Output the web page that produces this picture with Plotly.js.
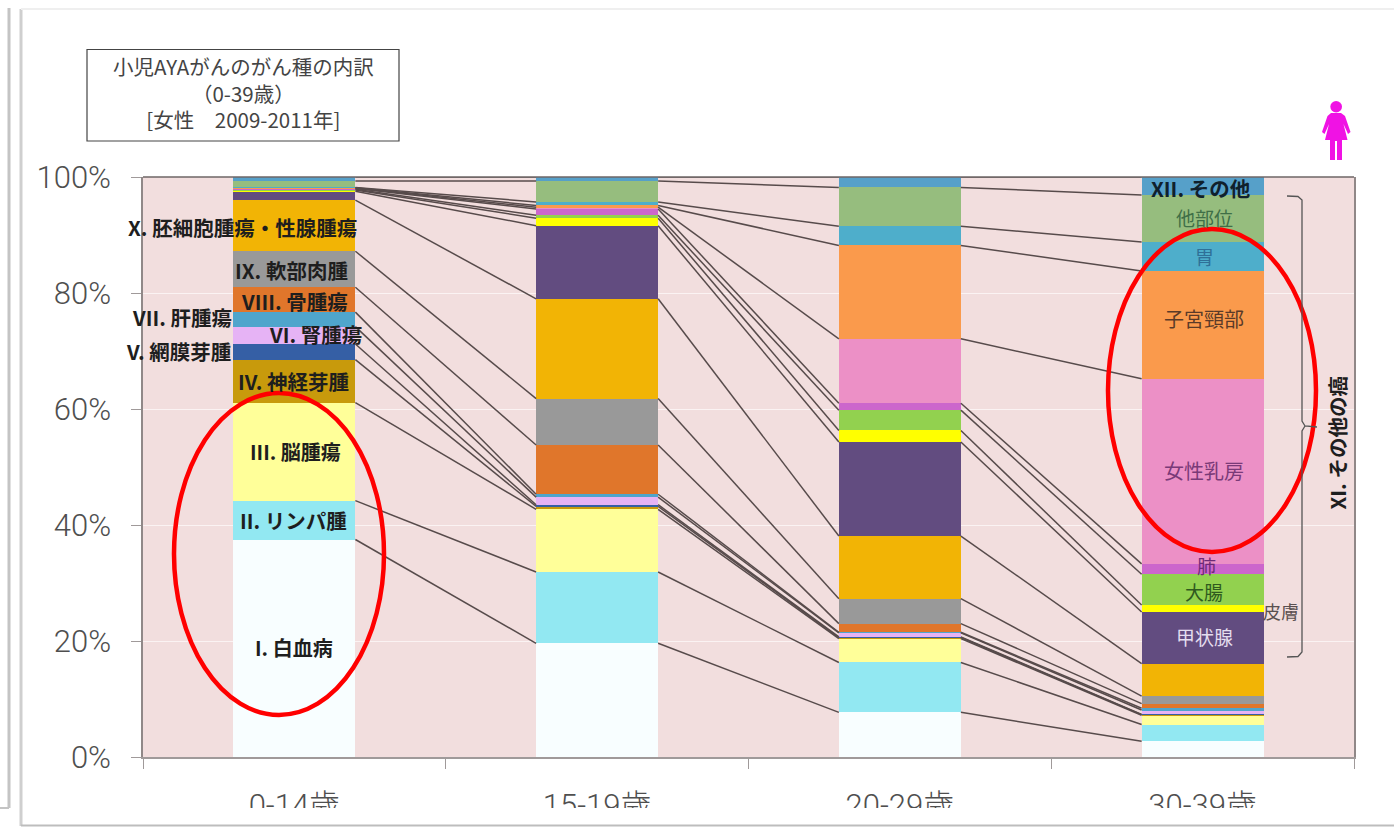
<!DOCTYPE html>
<html lang="ja">
<head>
<meta charset="utf-8">
<title>小児AYAがんのがん種の内訳</title>
<script src="https://cdn.plot.ly/plotly-3.0.1.min.js"></script>
<style>html,body{margin:0;padding:0;background:#fff;overflow:hidden}</style>
</head>
<body>
<div id="chart"></div>
<script>
// Age bands on the horizontal axis
const ageGroups = ['0-14歳', '15-19歳', '20-29歳', '30-39歳'];
const yTicks = [0, 20, 40, 60, 80, 100];

// Share of cases (%) per age band, stacked from the bottom up
const leukemia      = [37.5, 19.6,  7.7,  2.7];
const lymphoma      = [ 6.7, 12.3,  8.6,  2.9];
const brainTumor    = [16.9, 10.8,  4.1,  1.6];
const neuroblastoma = [ 7.4,  0.5,  0.2,  0.1];
const retinoblastoma= [ 2.7,  0.3,  0.1,  0.05];
const renalTumor    = [ 3.0,  1.3,  0.7,  0.75];
const liverTumor    = [ 2.5,  0.5,  0.1,  0.3];
const boneTumor     = [ 4.3,  8.5,  1.5,  0.8];
const softTissue    = [ 6.2,  8.0,  4.3,  1.3];
const germCell      = [ 8.8, 17.2, 10.8,  5.6];
const thyroid       = [1.55, 12.6, 16.2,  8.9];
const skin          = [ 0.2,  1.3,  2.0,  1.2];
const colon         = [0.15,  0.5,  3.5,  5.3];
const lung          = [ 0.1,  1.1,  1.2,  1.8];
const breast        = [ 0.1,  0.3, 11.1, 31.9];
const cervix        = [0.05,  0.3, 16.1, 18.6];
const stomach       = [0.05,  0.6,  3.3,  5.0];
const otherSites    = [ 1.1,  3.6,  6.7,  8.1];
const otherCancers  = [ 0.7,  0.7,  1.8,  3.1];

const stackOrder = [
  ['I. 白血病', leukemia, '#F8FEFF'],
  ['II. リンパ腫', lymphoma, '#92E8F2'],
  ['III. 脳腫瘍', brainTumor, '#FFFF99'],
  ['IV. 神経芽腫', neuroblastoma, '#C89A0C'],
  ['V. 網膜芽腫', retinoblastoma, '#355FA5'],
  ['VI. 腎腫瘍', renalTumor, '#E6B3F5'],
  ['VII. 肝腫瘍', liverTumor, '#4FA5CC'],
  ['VIII. 骨腫瘍', boneTumor, '#E0762B'],
  ['IX. 軟部肉腫', softTissue, '#999999'],
  ['X. 胚細胞腫瘍・性腺腫瘍', germCell, '#F2B405'],
  ['甲状腺', thyroid, '#624C80'],
  ['皮膚', skin, '#FFFF00'],
  ['大腸', colon, '#92D14F'],
  ['肺', lung, '#CC66CC'],
  ['女性乳房', breast, '#EC90C6'],
  ['子宮頸部', cervix, '#FA9A4C'],
  ['胃', stomach, '#4EAECB'],
  ['他部位', otherSites, '#96BD7E'],
  ['XII. その他', otherCancers, '#56A0C9']
];

const FONT = '"Noto Sans CJK JP", "Noto Sans", sans-serif';
const W = 1394, H = 827;
const M = {l: 143, r: 40, t: 177, b: 70};
const px = x => (x - M.l) / (W - M.l - M.r);
const py = y => (H - M.b - y) / (H - M.t - M.b);
const BAR = 0.403;
const positions = ageGroups.map((_, i) => i);

// Stacked columns
const traces = stackOrder.map(([name, values, color]) => ({
  type: 'bar', name, x: positions, y: values, width: BAR,
  marker: {color, line: {width: 0}}, hoverinfo: 'name+y', showlegend: false
}));

// Series lines joining each layer's top edge between neighbouring columns
const running = positions.map(() => 0);
stackOrder.forEach(([name, values]) => {
  const lx = [], ly = [];
  values.forEach((v, i) => { running[i] += v; });
  for (let i = 0; i < positions.length - 1; i++) {
    lx.push(i + BAR / 2, i + 1 - BAR / 2, null);
    ly.push(running[i], running[i + 1], null);
  }
  traces.push({
    type: 'scatter', mode: 'lines', x: lx, y: ly, connectgaps: false,
    line: {color: '#574B4B', width: 1.5}, hoverinfo: 'skip', showlegend: false
  });
});

const toPaper = pts => pts.map(([c, x, y]) => c + (x === undefined ? '' : ` ${px(x)} ${py(y)}`)).join(' ');

const shapes = [
  // outer panel edges
  {type: 'line', xref: 'paper', yref: 'paper', x0: px(9), x1: px(9), y0: py(8), y1: py(808), line: {color: '#C4C4C4', width: 3}, layer: 'above'},
  {type: 'line', xref: 'paper', yref: 'paper', x0: px(0), x1: px(9), y0: py(808), y1: py(808), line: {color: '#C4C4C4', width: 2}, layer: 'above'},
  {type: 'line', xref: 'paper', yref: 'paper', x0: px(21), x1: px(21), y0: py(9), y1: py(826), line: {color: '#CFCFCF', width: 3}, layer: 'above'},
  {type: 'line', xref: 'paper', yref: 'paper', x0: px(21), x1: px(1394), y0: py(9), y1: py(9), line: {color: '#EFEFEF', width: 2}, layer: 'above'},
  // strip that crops the lower part of the age labels
  {type: 'rect', xref: 'paper', yref: 'paper', x0: px(23), x1: px(1394), y0: py(808), y1: py(825), fillcolor: '#FFFFFF', line: {width: 0}, layer: 'above'},
  {type: 'line', xref: 'paper', yref: 'paper', x0: px(21), x1: px(1394), y0: py(825.5), y1: py(825.5), line: {color: '#BDBDBD', width: 2}, layer: 'above'},
  // top border of the plot area
  {type: 'line', xref: 'paper', yref: 'paper', x0: 0, x1: 1, y0: 1, y1: 1, line: {color: '#6E6666', width: 1.5}, layer: 'above'},
  // heading box
  {type: 'rect', xref: 'paper', yref: 'paper', x0: px(87), x1: px(399), y0: py(49.5), y1: py(141), fillcolor: '#FFFFFF', line: {color: '#444444', width: 1.2}, layer: 'above'},
  // highlight ellipses
  {type: 'circle', xref: 'paper', yref: 'paper', x0: px(174), x1: px(384), y0: py(393), y1: py(715), line: {color: '#FF0000', width: 4.5}, layer: 'above'},
  {type: 'circle', xref: 'paper', yref: 'paper', x0: px(1108), x1: px(1316), y0: py(229), y1: py(552), line: {color: '#FF0000', width: 4.5}, layer: 'above'},
  // bracket for the XI group
  {type: 'path', xref: 'paper', yref: 'paper', layer: 'above', line: {color: '#555555', width: 1.3},
    path: toPaper([['M', 1287, 196], ['L', 1298, 196.5], ['L', 1302, 200], ['L', 1302, 421], ['L', 1305, 426], ['L', 1317, 427], ['M', 1305, 426], ['L', 1302, 431], ['L', 1302, 652], ['L', 1298, 656.5], ['L', 1287, 657]])},
  // woman pictogram
  {type: 'circle', xref: 'paper', yref: 'paper', x0: px(1330.3), x1: px(1342), y0: py(101), y1: py(112.5), fillcolor: '#F012E4', line: {width: 0}, layer: 'above'},
  {type: 'path', xref: 'paper', yref: 'paper', layer: 'above', fillcolor: '#F012E4', line: {width: 0},
    path: toPaper([['M', 1331, 113], ['L', 1341, 113], ['L', 1345, 116], ['L', 1350.5, 132], ['L', 1348, 134], ['L', 1343.5, 124], ['L', 1347.5, 140], ['L', 1342, 140], ['L', 1342, 160], ['L', 1337, 160], ['L', 1337, 141], ['L', 1335, 141], ['L', 1335, 160], ['L', 1330, 160], ['L', 1330, 140], ['L', 1325, 140], ['L', 1329, 124], ['L', 1324.5, 134], ['L', 1322, 132], ['L', 1327.5, 116], ['Z']])}
];

function label(text, x, y, size, color, bold, angle) {
  return {
    xref: 'paper', yref: 'paper', x: px(x), y: py(y - 1.5), xanchor: 'center', yanchor: 'middle',
    text: bold ? `<b>${text}</b>` : text, showarrow: false, textangle: angle || 0,
    font: {family: FONT, size, color}
  };
}

const BLK = '#1E1E1E';
const annotations = [
  label('小児AYAがんのがん種の内訳<br>（0-39歳）<br>[女性　2009-2011年]', 243, 94.5, 20.5, '#444444'),
  label('I. 白血病', 294, 649, 20, BLK, true),
  label('II. リンパ腫', 293, 521, 20.5, BLK, true),
  label('III. 脳腫瘍', 295, 453, 20, BLK, true),
  label('IV. 神経芽腫', 293, 382, 20.5, BLK, true),
  label('V. 網膜芽腫', 178, 352, 20.5, BLK, true),
  label('VI. 腎腫瘍', 315, 335, 20.5, BLK, true),
  label('VII. 肝腫瘍', 182, 318, 20.5, BLK, true),
  label('VIII. 骨腫瘍', 294, 302, 20.5, BLK, true),
  label('IX. 軟部肉腫', 291, 271, 20.5, BLK, true),
  label('X. 胚細胞腫瘍・性腺腫瘍', 242, 228, 20.5, BLK, true),
  label('XII. その他', 1200, 189, 20.5, '#10202C', true),
  label('他部位', 1204, 219, 19, '#3F6F47'),
  label('胃', 1204, 258, 19, '#2F7098'),
  label('子宮頸部', 1204, 320, 20, '#5A3A28'),
  label('女性乳房', 1204, 472, 20, '#7A3A78'),
  label('肺', 1206, 567, 19, '#6E2A78'),
  label('大腸', 1204, 593, 19, '#2F5A1E'),
  label('皮膚', 1281, 612, 18, '#5A5050'),
  label('甲状腺', 1204, 638, 19, '#E4DDEE'),
  label('XI. その他の癌', 1336, 445, 20.5, BLK, true, -90)
];

const layout = {
  width: W, height: H, margin: M, showlegend: false,
  barmode: 'stack',
  paper_bgcolor: '#FFFFFF', plot_bgcolor: '#F2DEDE',
  font: {family: FONT},
  xaxis: {
    type: 'linear', range: [-0.5, 3.5], tickmode: 'array',
    tickvals: positions, ticktext: ageGroups, ticks: '', ticklabelstandoff: 20,
    tickfont: {family: '"Roboto", "Noto Sans CJK JP", sans-serif', size: 31, color: '#4F4F4F', weight: 300},
    showgrid: false, zeroline: false, showline: true, linecolor: '#A09A9A', linewidth: 1.5,
    minor: {tickmode: 'array', tickvals: [-0.5, 0.5, 1.5, 2.5, 3.5], ticks: 'outside', ticklen: 10, tickwidth: 1.2, tickcolor: '#A09A9A', showgrid: false}
  },
  yaxis: {
    range: [0, 100], tickmode: 'array', tickvals: yTicks, ticktext: yTicks.map(v => v + '%'),
    ticks: 'outside', ticklen: 10, tickwidth: 1.2, tickcolor: '#A09A9A', ticklabelstandoff: 14,
    tickfont: {family: '"Roboto", sans-serif', size: 31, color: '#4F4F4F', weight: 300},
    showgrid: true, gridcolor: '#FBF3F3', gridwidth: 1.2, zeroline: false,
    showline: true, mirror: true, linecolor: '#908888', linewidth: 1.5
  },
  shapes, annotations
};

Plotly.newPlot('chart', traces, layout, {displayModeBar: false, responsive: false});
</script>
</body>
</html>
